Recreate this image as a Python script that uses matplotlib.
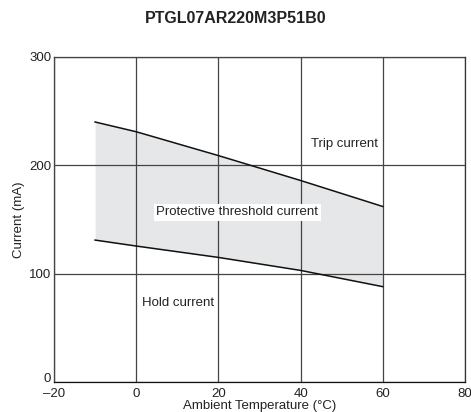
import matplotlib
matplotlib.use("Agg")
import matplotlib.pyplot as plt
import matplotlib.transforms as mtransforms
import numpy as np

plt.rcParams["font.family"] = ["Liberation Sans", "DejaVu Sans"]

title = "PTGL07AR220M3P51B0"
temps = [-10, 0, 20, 40, 60]
trip = [240, 231, 209, 186, 162]
hold = [131, 125.5, 115, 103, 88]

fig = plt.figure(figsize=(4.71, 4.12), dpi=100)
ax = fig.add_axes([0.1146, 0.0728, 0.8726, 0.7889])

ax.fill_between(temps, hold, trip, color="#e6e7e8", lw=0, zorder=1)
ax.plot(temps, trip, color="#111111", lw=1.1, zorder=3)
ax.plot(temps, hold, color="#111111", lw=1.1, zorder=3)

ax.set_xlim(-20, 80)
ax.set_ylim(0, 300)
ax.set_xticks([-20, 0, 20, 40, 60, 80])
ax.set_xticklabels(["\u201320", "0", "20", "40", "60", "80"])
ax.set_yticks([0, 100, 200, 300])
ax.grid(True, color="#444444", lw=0.9, zorder=2)
ax.set_axisbelow(False)
ax.tick_params(length=0, labelsize=9.5, colors="#222222", pad=2)
ax.tick_params(axis="x", pad=4)
for s in ax.spines.values():
    s.set_color("#333333")
    s.set_linewidth(0.9)
ax.spines["left"].set_color("#111111")
ax.spines["bottom"].set_color("#111111")

# nudge the bottom "0" label up a little, as in the reference
ylab0 = ax.get_yticklabels()[0]
ylab0.set_transform(ylab0.get_transform() + mtransforms.ScaledTranslation(0, 5 / 100, fig.dpi_scale_trans))

ax.set_xlabel("Ambient Temperature (\u00b0C)", fontsize=9.5, labelpad=0, color="#222222")
ax.set_ylabel("Current (mA)", fontsize=9.5, labelpad=3, color="#222222")

ax.text(42.5, 220, "Trip current", fontsize=9.5, color="#222222", va="center", zorder=4)
ax.text(24.6, 156.5, "Protective threshold current", fontsize=9.5, color="#222222",
        ha="center", va="center", zorder=4,
        bbox=dict(facecolor="white", edgecolor="none", pad=2))
ax.text(1.5, 73, "Hold current", fontsize=9.5, color="#222222", va="center", zorder=4)

fig.text(0.5, 0.955, title, fontsize=11.5, fontweight="bold", ha="center", va="center", color="#222222")

fig.savefig("out.png", dpi=100)
